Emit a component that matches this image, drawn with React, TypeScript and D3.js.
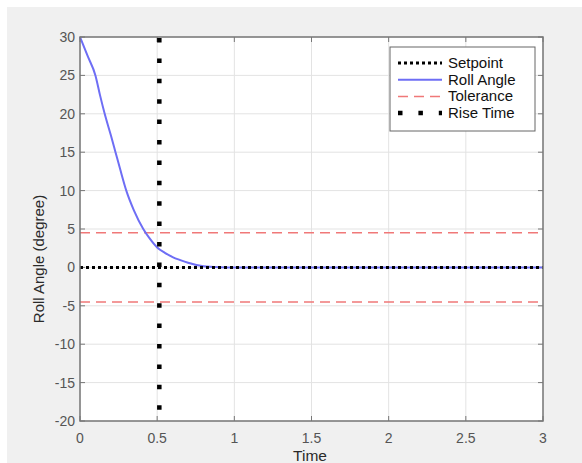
import React, { useEffect, useRef } from 'react';
import * as d3 from 'd3';

const timeValues = [0, 0.05, 0.1, 0.13, 0.16, 0.2, 0.23, 0.26, 0.3, 0.35, 0.41, 0.45, 0.5, 0.55, 0.6, 0.65, 0.7, 0.8, 0.9, 1.0, 1.5, 2.0, 2.5, 3.0];
const rollValues = [30, 27.5, 25, 22.4, 20, 17.2, 15, 12.8, 10, 7.4, 5, 3.8, 2.6, 1.9, 1.35, 0.95, 0.6, 0.15, 0.03, 0, 0, 0, 0, 0];
const setpoint = 0;
const tolerance = 4.5;
const riseTime = 0.514;
const xTicks = [0, 0.5, 1, 1.5, 2, 2.5, 3];
const yTicks = [-20, -15, -10, -5, 0, 5, 10, 15, 20, 25, 30];
const legendLabels = ['Setpoint', 'Roll Angle', 'Tolerance', 'Rise Time'];

const App = () => {
  const ref = useRef<SVGSVGElement>(null);

  useEffect(() => {
    document.body.style.margin = '0';
    const svg = d3.select(ref.current);
    svg.selectAll('*').remove();

    const left = 80, top = 37, right = 543, bottom = 421;
    const font = 'Arial, "Liberation Sans", sans-serif';

    const x = d3.scaleLinear().domain([0, 3]).range([left, right]);
    const y = d3.scaleLinear().domain([-20, 30]).range([bottom, top]);

    svg.append('rect').attr('x', 0).attr('y', 0).attr('width', 582).attr('height', 463).attr('fill', '#fff');
    svg.append('rect').attr('x', 7).attr('y', 7).attr('width', 575).attr('height', 456).attr('fill', '#f0f0f0');
    svg.append('rect').attr('x', left).attr('y', top).attr('width', right - left).attr('height', bottom - top).attr('fill', '#fff');

    // grid
    svg.append('g').selectAll('line').data(xTicks).join('line')
      .attr('x1', d => x(d)).attr('x2', d => x(d)).attr('y1', top).attr('y2', bottom)
      .attr('stroke', '#e3e3e3').attr('stroke-width', 1);
    svg.append('g').selectAll('line').data(yTicks).join('line')
      .attr('y1', d => y(d)).attr('y2', d => y(d)).attr('x1', left).attr('x2', right)
      .attr('stroke', '#e3e3e3').attr('stroke-width', 1);

    // ticks (inside, on all sides)
    const tk = 5;
    const tg = svg.append('g').attr('stroke', '#777').attr('stroke-width', 1);
    xTicks.forEach(d => {
      tg.append('line').attr('x1', x(d)).attr('x2', x(d)).attr('y1', bottom).attr('y2', bottom - tk);
      tg.append('line').attr('x1', x(d)).attr('x2', x(d)).attr('y1', top).attr('y2', top + tk);
    });
    yTicks.forEach(d => {
      tg.append('line').attr('y1', y(d)).attr('y2', y(d)).attr('x1', left).attr('x2', left + tk);
      tg.append('line').attr('y1', y(d)).attr('y2', y(d)).attr('x1', right).attr('x2', right - tk);
    });

    // tolerance
    [tolerance, -tolerance].forEach(v => {
      svg.append('line').attr('x1', left).attr('x2', right).attr('y1', y(v)).attr('y2', y(v))
        .attr('stroke', '#f07878').attr('stroke-width', 1.5).attr('stroke-dasharray', '10 6');
    });

    // roll angle
    const line = d3.line<number>()
      .x((_, i) => x(timeValues[i]))
      .y(d => y(d))
      .curve(d3.curveMonotoneX);
    svg.append('path').datum(rollValues)
      .attr('fill', 'none').attr('stroke', '#6e6ef5').attr('stroke-width', 2)
      .attr('d', line);

    // setpoint
    svg.append('line').attr('x1', left).attr('x2', right).attr('y1', y(setpoint)).attr('y2', y(setpoint))
      .attr('stroke', '#000').attr('stroke-width', 3).attr('stroke-dasharray', '3 3');

    // rise time
    svg.append('line').attr('x1', x(riseTime)).attr('x2', x(riseTime)).attr('y1', top + 1).attr('y2', bottom)
      .attr('stroke', '#000').attr('stroke-width', 4.5).attr('stroke-dasharray', '4.5 15.9');

    // box
    svg.append('rect').attr('x', left).attr('y', top).attr('width', right - left).attr('height', bottom - top)
      .attr('fill', 'none').attr('stroke', '#777').attr('stroke-width', 1.5);

    // tick labels
    svg.append('g').selectAll('text').data(xTicks).join('text')
      .attr('x', d => x(d)).attr('y', bottom + 22).attr('text-anchor', 'middle')
      .attr('font-family', font).attr('font-size', 14).attr('fill', '#555')
      .text(d => d3.format('~g')(d));
    svg.append('g').selectAll('text').data(yTicks).join('text')
      .attr('x', left - 5).attr('y', d => y(d) + 5).attr('text-anchor', 'end')
      .attr('font-family', font).attr('font-size', 14).attr('fill', '#555')
      .text(d => d);

    svg.append('text').attr('x', 310).attr('y', 461).attr('text-anchor', 'middle')
      .attr('font-family', font).attr('font-size', 15.5).attr('fill', '#2a2a2a').text('Time');
    svg.append('text').attr('transform', `translate(44,259) rotate(-90)`)
      .attr('text-anchor', 'middle')
      .attr('font-family', font).attr('font-size', 15).attr('fill', '#2a2a2a').text('Roll Angle (degree)');

    // legend
    const lg = svg.append('g');
    lg.append('rect').attr('x', 390).attr('y', 47).attr('width', 145).attr('height', 84)
      .attr('fill', '#fff').attr('stroke', '#666').attr('stroke-width', 1);
    const styles = [
      { stroke: '#000', width: 3, dash: '3 3' },
      { stroke: '#6e6ef5', width: 2, dash: null },
      { stroke: '#f07878', width: 1.5, dash: '10 6' },
      { stroke: '#000', width: 4.5, dash: '4.5 15.9' },
    ];
    legendLabels.forEach((label, i) => {
      const cy = 63 + i * 16.7;
      const s = styles[i];
      const l = lg.append('line').attr('x1', 398).attr('x2', 442).attr('y1', cy).attr('y2', cy)
        .attr('stroke', s.stroke).attr('stroke-width', s.width);
      if (s.dash) l.attr('stroke-dasharray', s.dash);
      lg.append('text').attr('x', 448).attr('y', cy + 5)
        .attr('font-family', font).attr('font-size', 15).attr('fill', '#111').text(label);
    });
  }, []);

  return <svg ref={ref} width={582} height={463} style={{ display: 'block' }} />;
};

export default App;
